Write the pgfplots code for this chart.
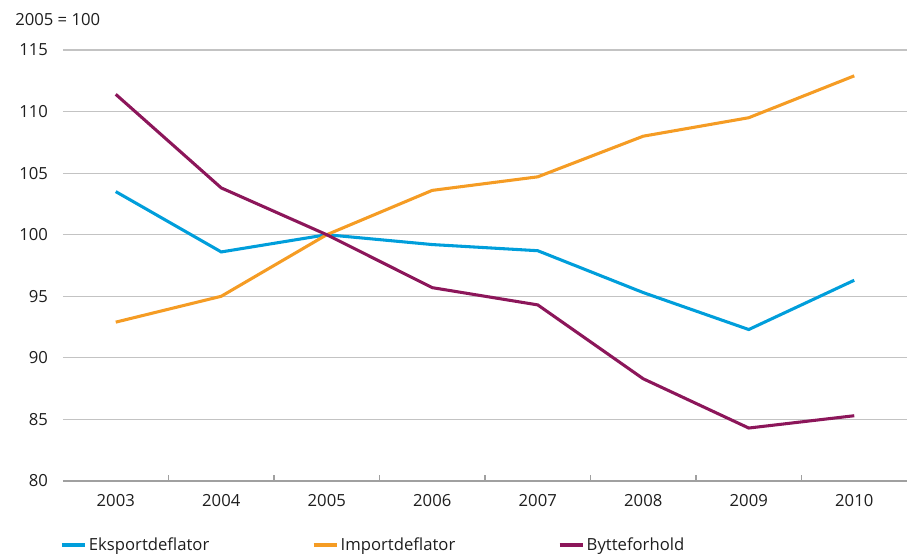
\documentclass[border=0pt]{standalone}
\usepackage{pgfplots}
\pgfplotsset{compat=1.18}
\usepackage{fontspec}
\setmainfont{Open Sans}
\definecolor{eks}{RGB}{0,158,219}
\definecolor{imp}{RGB}{245,156,36}
\definecolor{byt}{RGB}{140,22,90}
\definecolor{txt}{RGB}{30,30,30}
\definecolor{grd}{RGB}{195,195,195}
\definecolor{axl}{RGB}{160,160,160}
\begin{document}
\fontsize{12.5}{15}\selectfont
\begin{tikzpicture}
\useasboundingbox (-47.25pt,-55.5pt) rectangle (633pt,360.75pt);
\begin{axis}[
  at={(0,0)}, anchor=south west,
  scale only axis, width=633pt, height=323.25pt,
  xmin=-0.5, xmax=7.5, ymin=80, ymax=115,
  ytick={80,85,...,115},
  xtick={0,...,7},
  xticklabels={2003,2004,2005,2006,2007,2008,2009,2010},
  minor xtick={0.5,1.5,...,6.5},
  major x tick style={draw=none},
  minor x tick style={draw=axl, line width=0.8pt},
  minor tick length=4.5pt,
  tick align=inside,
  axis lines*=left,
  x axis line style={draw=axl, line width=0.8pt},
  y axis line style={draw=none},
  ytick style={draw=none},
  ymajorgrids, major grid style={draw=grd, line width=0.8pt},
  /pgf/number format/assume math mode=true,
  tick label style={font=\fontsize{12.5}{15}\selectfont, text=txt},
  yticklabel style={xshift=-7pt},
  xticklabel style={yshift=-6pt},
  clip=false,
  legend columns=3,
  legend style={at={(-0.0036,-0.1485)}, anchor=west, draw=none, fill=none, inner sep=0pt,
    font=\fontsize{12.5}{15}\selectfont, text=txt,
    /tikz/every even column/.append style={column sep=75pt}},
  legend cell align=left,
  legend image code/.code={\draw[#1] (0pt,0pt) -- (17.25pt,0pt);},
  every axis plot/.append style={line width=2.3pt},
]
\addplot[eks] coordinates {(0,103.5)(1,98.6)(2,100)(3,99.2)(4,98.7)(5,95.3)(6,92.3)(7,96.3)};
\addplot[imp] coordinates {(0,92.9)(1,95.0)(2,100)(3,103.6)(4,104.7)(5,108.0)(6,109.5)(7,112.9)};
\addplot[byt] coordinates {(0,111.4)(1,103.8)(2,100)(3,95.7)(4,94.3)(5,88.3)(6,84.3)(7,85.3)};
\legend{Eksportdeflator,Importdeflator,Bytteforhold}
\node[anchor=west, text=txt, inner sep=0pt] at ([xshift=-36pt,yshift=22.5pt]rel axis cs:0,1) {2005 = 100};
\end{axis}
\end{tikzpicture}
\end{document}
